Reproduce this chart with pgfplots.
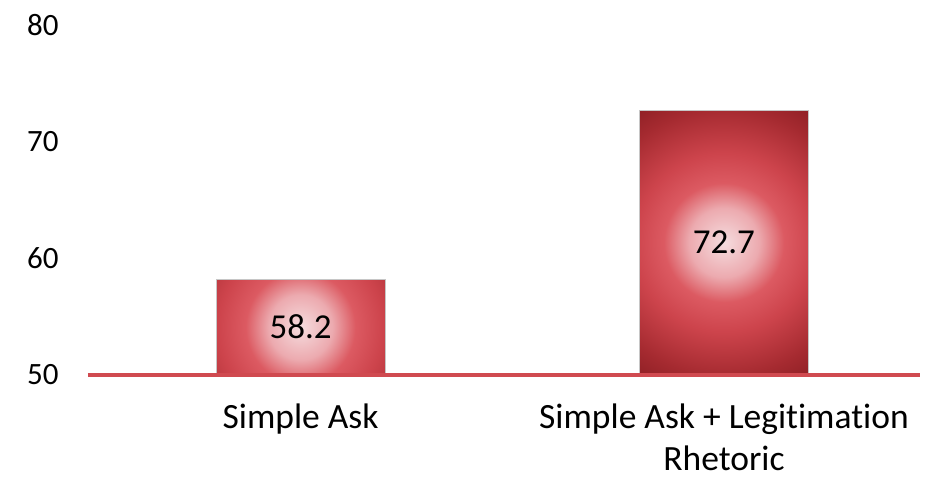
\documentclass[border=0pt]{standalone}
\usepackage{pgfplots}
\pgfplotsset{compat=1.18}
\usepackage{fontspec}
\setmainfont{Carlito}[Ligatures=NoCommon]
\definecolor{cB}{HTML}{D04A50}
% stops (px): 0 (245,220,222); 35 (236,170,175); 60 (220,90,98); 90 (205,68,76); 135 (165,42,48); 170 (135,28,33)
\newcommand\defbarshade[3]{%
\pgfdeclarefunctionalshading{#1}{\pgfpoint{-50bp}{-50bp}}{\pgfpoint{50bp}{50bp}}{}{%
#3 mul dup mul exch #2 mul dup mul add sqrt
dup 35 lt
{35 div dup -0.035 mul 0.961 add exch dup -0.196 mul 0.863 add exch -0.184 mul 0.871 add}
{dup 60 lt
 {35 sub 25 div dup -0.063 mul 0.925 add exch dup -0.313 mul 0.667 add exch -0.302 mul 0.686 add}
 {dup 90 lt
  {60 sub 30 div dup -0.059 mul 0.863 add exch dup -0.087 mul 0.353 add exch -0.086 mul 0.384 add}
  {dup 135 lt
   {90 sub 45 div dup -0.157 mul 0.804 add exch dup -0.102 mul 0.267 add exch -0.110 mul 0.298 add}
   {135 sub 35 div dup 1 gt {pop 1} if dup -0.118 mul 0.647 add exch dup -0.055 mul 0.165 add exch -0.059 mul 0.188 add}
   ifelse}
  ifelse}
 ifelse}
ifelse
}}
\defbarshade{shA}{3.7}{2.05}
\defbarshade{shB}{3.38}{5.34}
\pgfplotstableread{
x y
0 58.2
}\tA
\pgfplotstableread{
x y
1 72.7
}\tB
\begin{document}
\begin{tikzpicture}
\begin{axis}[name=ax, at={(0,0)}, anchor=south west, scale only axis,
  width=832pt, height=350pt,
  xmin=-0.502, xmax=1.463, ymin=0, ymax=30,
  xtick={0,1}, xticklabels={Simple Ask, {Simple Ask + Legitimation\\Rhetoric}},
  xticklabel style={align=center, inner sep=0pt, font=\fontsize{35.5}{42.5}\selectfont, yshift=-24pt},
  ytick={0,10,20,30}, yticklabels={50,60,70,80},
  yticklabel style={font=\fontsize{31}{36}\selectfont, xshift=-26pt},
  axis x line*=bottom, axis y line*=left,
  x axis line style={draw=cB, line width=3.5pt, -},
  y axis line style={draw=none},
  tick style={draw=none},
  axis on top,
  /pgf/number format/assume math mode=true,
  y filter/.expression={y-50},
  ybar, bar width=169pt, bar shift=0pt,
  clip=false,
  barstyle/.style={draw=gray!45, line width=0.8pt, shade, shading=#1,
    point meta={\thisrow{y}},
    visualization depends on={\thisrow{y} \as \yraw},
    nodes near coords={\pgfmathprintnumber[fixed, precision=1, fixed zerofill]{\pgfplotspointmeta}},
    every node near coord/.append style={anchor=center, font=\fontsize{35}{40}\selectfont, text=black,
      yshift={-0.5*(\yraw-50)*11.6667pt}}},
]
\addplot[barstyle=shA] table {\tA};
\addplot[barstyle=shB] table {\tB};
\end{axis}
\pgfresetboundingbox
\path (-88pt,-103pt) rectangle (847pt,375pt);
\end{tikzpicture}
\end{document}
